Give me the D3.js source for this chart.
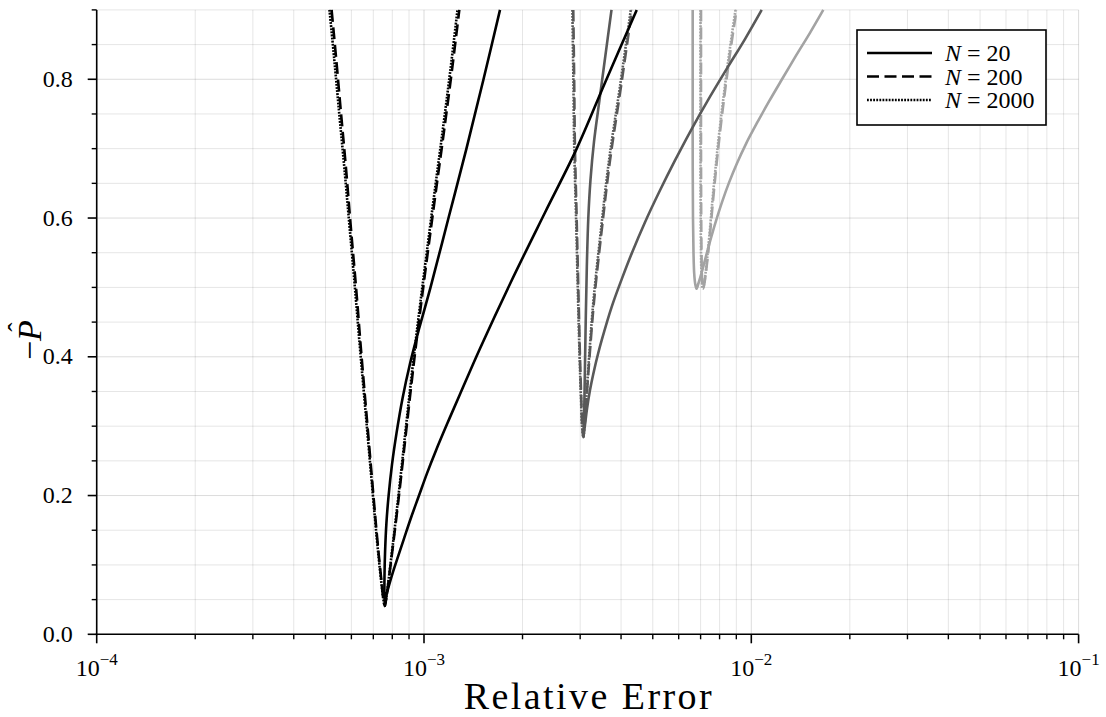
<!DOCTYPE html>
<html>
<head>
<meta charset="utf-8">
<script src="https://cdn.jsdelivr.net/npm/d3@7"></script>
<style>
  body { margin: 0; background: #fff; }
  svg { display: block; }
  text { font-family: "Liberation Serif", "DejaVu Serif", serif; fill: #000; }
</style>
</head>
<body>
<svg id="chart" width="1106" height="717" font-family="Liberation Serif, DejaVu Serif, serif"></svg>
<script>
// Relative error (x) against -P̂ (y), one curve per N and per family.
// Each curve runs from one upper end, through its minimum, to the other upper end.

// Family 1 (black)
const blackN20 = [
  [1.707e-3, 0.90], [1.520e-3, 0.80], [1.348e-3, 0.70], [1.188e-3, 0.60], [1.047e-3, 0.50],
  [9.654e-4, 0.44], [9.062e-4, 0.39], [8.597e-4, 0.34], [8.242e-4, 0.29], [7.985e-4, 0.245],
  [7.796e-4, 0.20], [7.676e-4, 0.16], [7.606e-4, 0.12], [7.574e-4, 0.085], [7.569e-4, 0.06],
  [7.590e-4, 0.041],
  [7.633e-4, 0.05], [7.709e-4, 0.06], [7.845e-4, 0.073], [8.041e-4, 0.09], [8.329e-4, 0.112],
  [8.688e-4, 0.138], [9.126e-4, 0.168], [9.654e-4, 0.20], [1.0213e-3, 0.232], [1.088e-3, 0.265],
  [1.176e-3, 0.303], [1.288e-3, 0.346], [1.483e-3, 0.412], [1.831e-3, 0.505], [2.343e-3, 0.608],
  [2.928e-3, 0.70], [3.573e-3, 0.795], [4.466e-3, 0.90]
];
const blackN200 = [
  [5.22e-4, 0.90], [5.39e-4, 0.83], [5.58e-4, 0.75], [5.78e-4, 0.67], [5.98e-4, 0.585],
  [6.20e-4, 0.50], [6.42e-4, 0.41], [6.65e-4, 0.325], [6.89e-4, 0.24], [7.11e-4, 0.165],
  [7.29e-4, 0.11], [7.42e-4, 0.075], [7.51e-4, 0.052], [7.59e-4, 0.041],
  [7.671e-4, 0.052], [7.762e-4, 0.07], [7.872e-4, 0.093], [8.041e-4, 0.128], [8.242e-4, 0.17],
  [8.446e-4, 0.213], [8.688e-4, 0.265], [8.999e-4, 0.33], [9.386e-4, 0.405], [9.791e-4, 0.475],
  [1.0285e-3, 0.553], [1.088e-3, 0.64], [1.151e-3, 0.725], [1.215e-3, 0.81], [1.282e-3, 0.90]
];
const blackN2000 = [
  [5.143e-4, 0.90], [5.316e-4, 0.83], [5.510e-4, 0.75], [5.716e-4, 0.67], [5.929e-4, 0.585],
  [6.150e-4, 0.50], [6.380e-4, 0.41], [6.617e-4, 0.325], [6.863e-4, 0.24], [7.089e-4, 0.165],
  [7.271e-4, 0.11], [7.405e-4, 0.075], [7.505e-4, 0.052], [7.590e-4, 0.041],
  [7.665e-4, 0.052], [7.757e-4, 0.07], [7.861e-4, 0.093], [8.024e-4, 0.128], [8.219e-4, 0.17],
  [8.417e-4, 0.213], [8.652e-4, 0.265], [8.955e-4, 0.33], [9.334e-4, 0.405], [9.729e-4, 0.475],
  [1.0213e-3, 0.553], [1.0789e-3, 0.64], [1.1397e-3, 0.725], [1.2016e-3, 0.81], [1.2656e-3, 0.90]
];

// Family 2 (dark grey)
const darkN20 = [
  [3.740e-3, 0.90], [3.573e-3, 0.83], [3.425e-3, 0.765], [3.307e-3, 0.71], [3.226e-3, 0.655],
  [3.177e-3, 0.60], [3.144e-3, 0.53], [3.122e-3, 0.46], [3.104e-3, 0.39], [3.089e-3, 0.33],
  [3.076e-3, 0.30], [3.067e-3, 0.285],
  [3.080e-3, 0.29], [3.104e-3, 0.302], [3.148e-3, 0.325], [3.215e-3, 0.352], [3.307e-3, 0.38],
  [3.401e-3, 0.404], [3.491e-3, 0.424], [3.745e-3, 0.472], [4.027e-3, 0.513], [4.320e-3, 0.55],
  [4.734e-3, 0.594], [5.262e-3, 0.64], [5.846e-3, 0.683], [6.497e-3, 0.724], [7.374e-3, 0.77],
  [8.412e-3, 0.815], [9.567e-3, 0.858], [1.076e-2, 0.90]
];
const darkN200 = [
  [2.858e-3, 0.90], [2.876e-3, 0.80], [2.892e-3, 0.70], [2.927e-3, 0.60], [2.960e-3, 0.50],
  [2.996e-3, 0.40], [3.023e-3, 0.34], [3.045e-3, 0.30], [3.067e-3, 0.284],
  [3.080e-3, 0.29], [3.100e-3, 0.305], [3.137e-3, 0.34], [3.204e-3, 0.40], [3.307e-3, 0.48],
  [3.486e-3, 0.58], [3.701e-3, 0.683], [3.999e-3, 0.79], [4.318e-3, 0.90]
];
const darkN2000 = [
  [2.840e-3, 0.90], [2.860e-3, 0.80], [2.878e-3, 0.70], [2.915e-3, 0.60], [2.950e-3, 0.50],
  [2.988e-3, 0.40], [3.017e-3, 0.34], [3.041e-3, 0.30], [3.067e-3, 0.284],
  [3.080e-3, 0.29], [3.0975e-3, 0.305], [3.132e-3, 0.34], [3.195e-3, 0.40], [3.293e-3, 0.48],
  [3.467e-3, 0.58], [3.675e-3, 0.683], [3.971e-3, 0.79], [4.2835e-3, 0.90]
];

// Family 3 (light grey)
const lightN20 = [
  [6.621e-3, 0.90], [6.621e-3, 0.80], [6.621e-3, 0.70], [6.635e-3, 0.60], [6.659e-3, 0.55],
  [6.692e-3, 0.52], [6.740e-3, 0.505], [6.801e-3, 0.498],
  [6.897e-3, 0.506], [7.020e-3, 0.518], [7.169e-3, 0.534], [7.348e-3, 0.553], [7.558e-3, 0.574],
  [7.801e-3, 0.596], [8.138e-3, 0.623], [8.549e-3, 0.651], [9.043e-3, 0.679], [9.634e-3, 0.707],
  [1.0409e-2, 0.737], [1.1327e-2, 0.768], [1.2411e-2, 0.800], [1.3695e-2, 0.834],
  [1.5112e-2, 0.867], [1.6595e-2, 0.90]
];
const lightN200 = [
  [7.020e-3, 0.90], [7.020e-3, 0.80], [7.020e-3, 0.70], [7.030e-3, 0.60], [7.044e-3, 0.55],
  [7.069e-3, 0.515], [7.119e-3, 0.498],
  [7.184e-3, 0.505], [7.260e-3, 0.52], [7.363e-3, 0.545], [7.489e-3, 0.58], [7.638e-3, 0.625],
  [7.801e-3, 0.67], [7.985e-3, 0.715], [8.195e-3, 0.76], [8.429e-3, 0.805], [8.700e-3, 0.852],
  [9.012e-3, 0.90]
];
const lightN2000 = [
  [6.996e-3, 0.90], [6.996e-3, 0.80], [6.996e-3, 0.70], [7.005e-3, 0.60], [7.020e-3, 0.55],
  [7.050e-3, 0.515], [7.109e-3, 0.498],
  [7.174e-3, 0.505], [7.245e-3, 0.52], [7.343e-3, 0.545], [7.463e-3, 0.58], [7.606e-3, 0.625],
  [7.769e-3, 0.67], [7.946e-3, 0.715], [8.155e-3, 0.76], [8.382e-3, 0.805], [8.646e-3, 0.852],
  [8.949e-3, 0.90]
];

// Axis ticks and legend entries
const xDecades = [-4, -3, -2, -1];
const yTickValues = [0.0, 0.2, 0.4, 0.6, 0.8];
const legendN = ["20", "200", "2000"];

// ---------------------------------------------------------------
const plot = { left: 96.7, right: 1078.6, top: 9.9, bottom: 634.3 };
const serif = "Liberation Serif, DejaVu Serif, serif";

const svg = d3.select("#chart");

const x = d3.scaleLog().domain([1e-4, 1e-1]).range([plot.left, plot.right]);
const y = d3.scaleLinear().domain([0, 0.9]).range([plot.bottom, plot.top]);

// minor tick positions: 2..9 in every decade, and every 0.05 on the y axis
const xMajor = xDecades.map(e => Math.pow(10, e));
const xMinor = [];
xDecades.slice(0, -1).forEach(e => {
  for (let m = 2; m <= 9; m++) xMinor.push(m * Math.pow(10, e));
});
const yMinor = d3.range(0, 0.9001, 0.05)
  .filter(v => !yTickValues.some(t => Math.abs(t - v) < 1e-9));

// grid
const grid = svg.append("g");
function vGrid(vals, op) {
  grid.append("g").selectAll("line").data(vals).join("line")
    .attr("x1", d => x(d)).attr("x2", d => x(d))
    .attr("y1", plot.top).attr("y2", plot.bottom)
    .attr("stroke", "#000").attr("stroke-opacity", op).attr("stroke-width", 1);
}
function hGrid(vals, op) {
  grid.append("g").selectAll("line").data(vals).join("line")
    .attr("x1", plot.left).attr("x2", plot.right)
    .attr("y1", d => y(d)).attr("y2", d => y(d))
    .attr("stroke", "#000").attr("stroke-opacity", op).attr("stroke-width", 1);
}
vGrid(xMinor, 0.1);
vGrid(xMajor, 0.14);
hGrid(yMinor, 0.1);
hGrid(yTickValues, 0.14);

// curves
svg.append("clipPath").attr("id", "plotClip")
  .append("rect").attr("x", plot.left).attr("y", plot.top - 1)
  .attr("width", plot.right - plot.left).attr("height", plot.bottom - plot.top + 1);

const line = d3.line()
  .x(d => x(d[0])).y(d => y(d[1]))
  .curve(d3.curveCatmullRom.alpha(0.5));

const dashStyle = { "20": null, "200": "12,5.5", "2000": "1.8,1.3" };
const curves = [
  { data: lightN20,   color: "#a3a3a3", n: "20" },
  { data: lightN200,  color: "#a3a3a3", n: "200" },
  { data: lightN2000, color: "#a3a3a3", n: "2000" },
  { data: darkN20,    color: "#595959", n: "20" },
  { data: darkN200,   color: "#595959", n: "200" },
  { data: darkN2000,  color: "#595959", n: "2000" },
  { data: blackN20,   color: "#000000", n: "20" },
  { data: blackN200,  color: "#000000", n: "200" },
  { data: blackN2000, color: "#000000", n: "2000" }
];

svg.append("g").attr("clip-path", "url(#plotClip)")
  .selectAll("path").data(curves).join("path")
  .attr("d", d => line(d.data))
  .attr("fill", "none")
  .attr("stroke", d => d.color)
  .attr("stroke-width", 2.6)
  .attr("stroke-linejoin", "round")
  .attr("stroke-dasharray", d => dashStyle[d.n]);

// x axis
const xAxisG = svg.append("g").attr("transform", `translate(0,${plot.bottom})`);
xAxisG.append("line").attr("x1", plot.left - 1).attr("x2", plot.right)
  .attr("stroke", "#000").attr("stroke-width", 1.6);
xAxisG.append("g").selectAll("line").data(xMinor).join("line")
  .attr("x1", d => x(d)).attr("x2", d => x(d)).attr("y1", 0).attr("y2", 5)
  .attr("stroke", "#000").attr("stroke-width", 1.4);
xAxisG.append("g").selectAll("line").data(xMajor).join("line")
  .attr("x1", d => x(d)).attr("x2", d => x(d)).attr("y1", 0).attr("y2", 9)
  .attr("stroke", "#000").attr("stroke-width", 1.6);
const xl = xAxisG.append("g").selectAll("text").data(xDecades).join("text")
  .attr("x", d => x(Math.pow(10, d)))
  .attr("y", 42)
  .attr("text-anchor", "middle")
  .style("font-family", serif)
  .style("font-size", "24px");
xl.append("tspan").text("10");
xl.append("tspan").attr("dy", -11).style("font-size", "17px").text(d => "\u2212" + Math.abs(d));

// y axis
const yAxisG = svg.append("g").attr("transform", `translate(${plot.left},0)`);
yAxisG.append("line").attr("y1", plot.top).attr("y2", plot.bottom + 1)
  .attr("stroke", "#000").attr("stroke-width", 1.6);
yAxisG.append("g").selectAll("line").data(yMinor).join("line")
  .attr("y1", d => y(d)).attr("y2", d => y(d)).attr("x1", 0).attr("x2", -5)
  .attr("stroke", "#000").attr("stroke-width", 1.4);
yAxisG.append("g").selectAll("line").data(yTickValues).join("line")
  .attr("y1", d => y(d)).attr("y2", d => y(d)).attr("x1", 0).attr("x2", -9)
  .attr("stroke", "#000").attr("stroke-width", 1.6);
yAxisG.append("g").selectAll("text").data(yTickValues).join("text")
  .attr("x", -24).attr("y", d => y(d) + 7.5)
  .attr("text-anchor", "end")
  .style("font-family", serif)
  .style("font-size", "24px")
  .text(d => d.toFixed(1));

// axis titles
svg.append("text")
  .attr("x", (plot.left + plot.right) / 2).attr("y", 709)
  .attr("text-anchor", "middle")
  .attr("textLength", 248).attr("lengthAdjust", "spacing")
  .style("font-family", serif)
  .style("font-size", "38px")
  .text("Relative Error");

const yTitle = svg.append("g")
  .attr("transform", `translate(41,${(plot.top + plot.bottom) / 2 + 18}) rotate(-90)`);
const yt = yTitle.append("text").attr("x", 0).attr("y", 0).attr("text-anchor", "middle")
  .style("font-family", serif)
  .style("font-size", "34px");
yt.append("tspan").text("\u2212");
yt.append("tspan").attr("font-style", "italic").text("P");
yTitle.append("text").attr("x", 13).attr("y", -14).attr("text-anchor", "middle")
  .style("font-family", serif)
  .style("font-size", "28px").text("\u02C6");

// legend
const lg = svg.append("g").attr("transform", "translate(857,30)");
lg.append("rect").attr("width", 189).attr("height", 95)
  .attr("fill", "#fff").attr("stroke", "#000").attr("stroke-width", 1.6);
const rows = lg.selectAll("g.row").data(legendN).join("g")
  .attr("class", "row")
  .attr("transform", (d, i) => `translate(0,${23 + i * 23.5})`);
rows.append("line").attr("x1", 10).attr("x2", 75)
  .attr("stroke", "#000").attr("stroke-width", 2.6)
  .attr("stroke-dasharray", d => dashStyle[d]);
const lt = rows.append("text").attr("x", 88).attr("y", 8)
  .style("font-family", serif)
  .style("font-size", "24px");
lt.append("tspan").attr("font-style", "italic").text("N");
lt.append("tspan").text(d => " = " + d);
</script>
</body>
</html>
